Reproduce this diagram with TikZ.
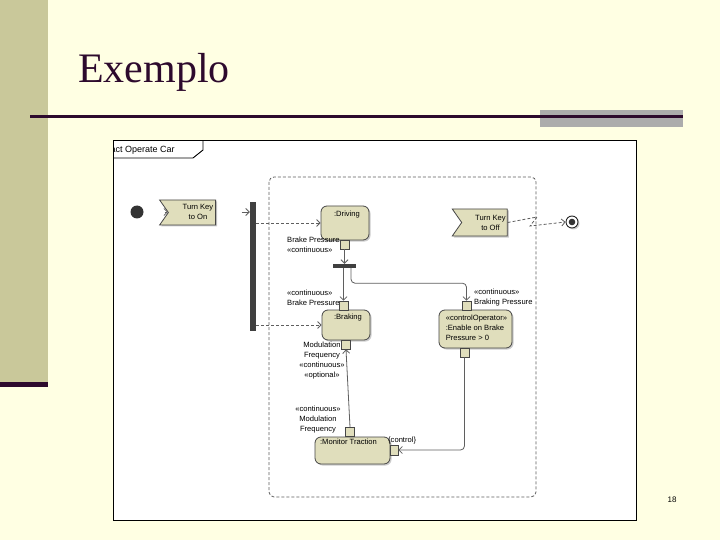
\documentclass[tikz,border=0pt]{standalone}
\usepackage{fontspec}
\setmainfont{Liberation Serif}
\setsansfont{Liberation Sans}
\usetikzlibrary{arrows.meta,shapes.symbols,shadows}
\definecolor{slidebg}{RGB}{255,255,227}
\definecolor{olivebar}{RGB}{201,200,154}
\definecolor{darkplum}{RGB}{45,10,45}
\definecolor{greybar}{RGB}{172,172,172}
\definecolor{actfill}{RGB}{224,222,188}
\definecolor{edgegrey}{RGB}{70,70,70}
\definecolor{flowgrey}{RGB}{95,95,95}
\definecolor{forkgrey}{RGB}{64,64,64}
\newcommand{\diagfont}{\sffamily\fontsize{7.6}{10}\selectfont}
\tikzstyle{action}=[draw=edgegrey, line width=0.8pt, fill=actfill, rounded corners=6pt, inner sep=0pt,
  drop shadow={shadow xshift=1.5pt, shadow yshift=-1.5pt, opacity=0.4}]
\tikzstyle{pinbox}=[draw=edgegrey, line width=0.7pt, fill=actfill, minimum size=9pt, inner sep=0pt]
\tikzstyle{event}=[signal, signal to=nowhere, signal from=west, signal pointer angle=110,
  draw=edgegrey, line width=0.8pt, fill=actfill, inner sep=0pt,
  drop shadow={shadow xshift=1.5pt, shadow yshift=-1.5pt, opacity=0.4}]
\tikzstyle{forkbar}=[fill=forkgrey, inner sep=0pt]
\tikzstyle{lbl}=[font=\diagfont, inner sep=0pt]
\tikzstyle{flow}=[draw=flowgrey, line width=0.8pt, -{Straight Barb[length=3.5pt,width=7pt]}]
\tikzstyle{dashflow}=[flow, dash pattern=on 3pt off 2pt]

\begin{document}
\begin{tikzpicture}[x=1pt,y=-1pt]
\useasboundingbox (0,0) rectangle (720,540);
% slide
\fill[slidebg] (0,0) rectangle (720,540);
\fill[olivebar] (0,0) rectangle (48,383);
\fill[darkplum] (0,382) rectangle (48,387);
\fill[greybar] (540,110) rectangle (683,127);
\draw[darkplum, line width=3pt] (30,117) -- (683,117);
\node[anchor=base west, inner sep=0pt, text=darkplum, font=\fontsize{42}{46}\selectfont] (title) at (78,83) {Exemplo};
\node[font=\sffamily\fontsize{8}{9}\selectfont] (pageno) at (672,500) {18};

% diagram frame
\draw[black, fill=white, line width=1pt] (113,141) rectangle (636,520);
\begin{scope}
\clip (113,141) rectangle (636,520);
\draw[black, line width=0.9pt] (113,158) -- (193,158) -- (203,150) -- (203,141);
\node[anchor=west, inner sep=0pt, font=\sffamily\fontsize{9}{10}\selectfont] (frametitle) at (110.5,150) {act Operate Car};
\end{scope}

% interruptible region
\draw[flowgrey, line width=0.8pt, dash pattern=on 3pt off 2pt, rounded corners=5pt] (269,177) rectangle (536,497);

% start
\node[circle, fill=black!80, minimum size=13pt, inner sep=0pt] (init) at (137,212) {};
\node[event, minimum width=56pt, minimum height=25pt] (tkon) at (192,212.5) {};
\node[lbl, align=center] (tkontxt) at ([xshift=6pt,yshift=1pt]tkon.center) {Turn Key\\to On};
\node[forkbar, minimum width=6pt, minimum height=129pt] (vfork) at (253,266.5) {};

% actions
\node[action, minimum width=48pt, minimum height=34pt] (drv) at (345,223) {};
\node[lbl, below=5pt] (drvtxt) at ([xshift=2pt]drv.north) {:Driving};
\node[action, minimum width=48pt, minimum height=30pt] (brk) at (346,325) {};
\node[lbl, below=4pt] (brktxt) at ([xshift=2pt]brk.north) {:Braking};
\node[action, minimum width=73pt, minimum height=38pt] (enb) at (475.5,329) {};
\node[lbl, align=left, anchor=north west] (enbtxt) at ([xshift=7pt,yshift=-5pt]enb.north west) {«controlOperator»\\:Enable on Brake\\Pressure > 0};
\node[action, minimum width=75pt, minimum height=27pt] (mon) at (352.5,450.5) {};
\node[lbl, below=2.5pt] (montxt) at ([xshift=-4pt]mon.north) {:Monitor Traction};

% pins
\node[pinbox] (drvout) at (344.5,244.5) {};
\node[pinbox] (brkin) at (343.5,305.5) {};
\node[pinbox] (brkout) at (346,344.5) {};
\node[pinbox] (enbin) at (466.5,305.5) {};
\node[pinbox] (enbout) at (464.5,352.5) {};
\node[pinbox] (monin) at (350,432) {};
\node[pinbox, minimum width=8pt, minimum height=10pt] (monctl) at (394,450) {};

% pin labels
\node[lbl, align=left, anchor=north west] (drvoutlbl) at (287,237) {Brake Pressure\\«continuous»};
\node[lbl, align=left, anchor=north west] (brkinlbl) at (287,290) {«continuous»\\Brake Pressure};
\node[lbl, align=center, anchor=north] (brkoutlbl) at (322,342) {Modulation\\Frequency\\«continuous»\\«optional»};
\node[lbl, align=center, anchor=north] (moninlbl) at (318,406) {«continuous»\\Modulation\\Frequency};
\node[lbl, align=left, anchor=north west] (enbinlbl) at (474,289) {«continuous»\\Braking Pressure};
\node[lbl, anchor=west] (monctllbl) at (388,440.5) {\{control\}};

% fork
\node[forkbar, minimum width=23pt, minimum height=4pt] (hfork) at (344.5,266) {};

% end
\node[event, minimum width=55pt, minimum height=27pt] (tkoff) at (484.5,222.5) {};
\node[lbl, align=center] (tkofftxt) at ([xshift=6pt,yshift=-0.5pt]tkoff.center) {Turn Key\\to Off};
\node[circle, draw=black!85, fill=white, line width=0.9pt, minimum size=12pt, inner sep=0pt,
  drop shadow={shadow xshift=1.5pt, shadow yshift=-1.5pt, opacity=0.4},
  path picture={\fill[black!80] (path picture bounding box.center) circle (3.3pt);}] (final) at (572,222) {};
\coordinate (zigA) at (537,217);
\coordinate (zigB) at (530,226);

% connectors
\draw[flow, shorten <=21pt] (init) -- (tkon.west |- init);
\draw[flow, shorten <=25.5pt] (tkon.east |- init) -- (vfork.west |- init);
\draw[dashflow] (vfork.east |- drv.west) -- (drv.west);
\draw[dashflow] (vfork.east |- brk.west) -- (brk.west);
\draw[flow] (drvout.south) -- (drvout.south |- hfork.north);
\draw[flow] (brkin.north |- hfork.south) -- (brkin.north);
\draw[flow, rounded corners=4pt] ([xshift=6.5pt]hfork.south) -- ++(0,15) -| (enbin.north);
\draw[flow] (monin.north) -- (brkout.south);
\draw[flow, rounded corners=4pt] (enbout.south) |- (monctl.east);
\draw[dashflow] (tkoff.east) -- (zigA) -- (zigB) -- (final.west);
\end{tikzpicture}
\end{document}
